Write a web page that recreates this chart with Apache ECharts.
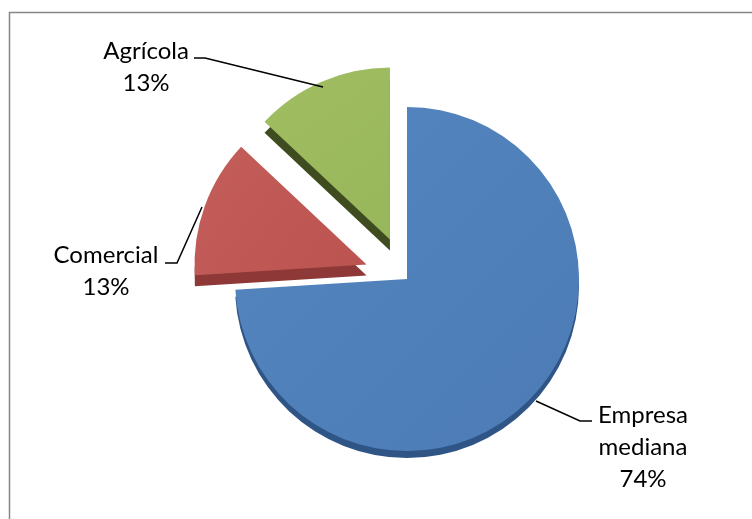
<!DOCTYPE html>
<html><head><meta charset="utf-8">
<style>html,body{margin:0;padding:0;background:#fff}#c{width:752px;height:519px}</style>
<script src="https://cdn.jsdelivr.net/npm/echarts@6/dist/echarts.min.js"></script>
</head><body><div id="c"></div>
<script>
const categories = ['Empresa\nmediana', 'Comercial', 'Agrícola'];
const values = [74, 13, 13];
const topColors = [['#5586bf', '#4c7bb5'], ['#c45e5b', '#bb5350'], ['#a0bd62', '#98b65a']];
const sideColors = ['#2f5586', '#8e3937', '#3f4c20'];
const exploded = [false, true, true];
const depths = [7, 11, 11];
const labelBoxes = [
  {cx: 643, cy: 447, line: [[536, 401], [580, 421], [592, 421]]},
  {cx: 106, cy: 271, line: [[202, 207], [177, 263], [165, 263]]},
  {cx: 146, cy: 67, line: [[323, 87], [205, 58], [194, 58]]}
];
const CX = 407, CY = 279, R = 172, OFFSET = 43;
const chart = echarts.init(document.getElementById('c'), null, {renderer: 'canvas'});
const base = {
  type: 'pie', radius: [0, R], startAngle: 90, clockwise: true, animation: false, silent: true,
  selectedMode: 'multiple', selectedOffset: OFFSET, avoidLabelOverlap: false,
  itemStyle: {borderWidth: 0}, emphasis: {disabled: true}
};
const depthSeries = depths.map((d, k) => Object.assign({}, base, {
  center: [CX, CY + d], z: 1, label: {show: false}, labelLine: {show: false},
  data: values.map((v, i) => ({
    name: categories[i], value: v, selected: exploded[i],
    itemStyle: {color: i === k ? sideColors[i] : 'rgba(0,0,0,0)'},
    select: {itemStyle: {color: i === k ? sideColors[i] : 'rgba(0,0,0,0)'}}
  }))
}));
const topSeries = Object.assign({}, base, {
  center: [CX, CY], z: 2, label: {show: false}, labelLine: {show: false},
  data: values.map((v, i) => {
    const col = {type: 'linear', x: 0, y: 0, x2: 1, y2: 1,
      colorStops: [{offset: 0, color: topColors[i][0]}, {offset: 1, color: topColors[i][1]}]};
    return {name: categories[i], value: v, selected: exploded[i],
      itemStyle: {color: col}, select: {itemStyle: {color: col}}};
  })
});
const labelSeries = Object.assign({}, base, {
  center: [CX, CY], z: 3, selectedMode: false,
  label: {show: true, formatter: '{b}\n{d}%', fontFamily: 'Lato', fontSize: 24, lineHeight: 32,
    color: '#000', align: 'center', verticalAlign: 'middle'},
  labelLine: {show: true, lineStyle: {color: '#000', width: 1.5}},
  labelLayout: p => {
    const b = labelBoxes[p.dataIndex];
    return {x: b.cx, y: b.cy, align: 'center', verticalAlign: 'middle', labelLinePoints: b.line};
  },
  data: values.map((v, i) => ({name: categories[i], value: v, itemStyle: {color: 'rgba(0,0,0,0)'}}))
});
chart.setOption({
  backgroundColor: '#fff',
  graphic: [{type: 'rect', z: 0, shape: {x: 9.5, y: 12.5, width: 780, height: 540},
    style: {fill: 'none', stroke: '#868686', lineWidth: 1.5}}],
  series: depthSeries.concat([topSeries, labelSeries])
});
</script></body></html>
